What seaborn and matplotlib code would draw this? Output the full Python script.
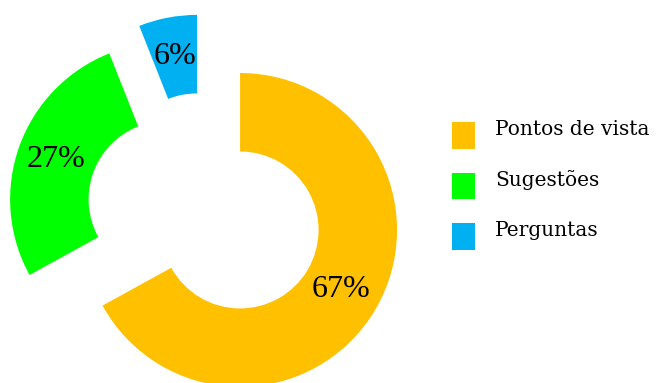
import matplotlib
matplotlib.use("Agg")
import matplotlib.pyplot as plt
import matplotlib.patches as mpatches
import matplotlib.transforms as mtransforms
import seaborn as sns

categories = ["Pontos de vista", "Sugestões", "Perguntas"]
values = [67, 27, 6]
colors = ["#FFC000", "#00FF00", "#00B0F0"]
# offsets of each slice from the centre (in radius units) - layout only
slice_offsets = [(0.0, 0.0), (-0.465, 0.195), (-0.274, 0.37)]

sns.set_theme(style="white")
plt.rcParams["font.family"] = ["Liberation Serif", "DejaVu Serif"]
plt.rcParams["text.color"] = "black"

fig = plt.figure(figsize=(6.58, 3.83), dpi=100)
ax = fig.add_axes([0, 0, 1, 1])

wedges, texts, autotexts = ax.pie(
    values, colors=colors, startangle=90, counterclock=False,
    wedgeprops=dict(width=0.5, linewidth=0),
    autopct="%1.0f%%", pctdistance=0.75,
    textprops=dict(fontsize=23, color="black", family="Liberation Serif"),
)
for w, t, (dx, dy) in zip(wedges, autotexts, slice_offsets):
    w.set_center((dx, dy))
    x, y = t.get_position()
    t.set_position((x + dx, y + dy))
    t.set_ha("center")
    t.set_va("center")

ax.set_aspect("equal")
ax.set_xlim(-1.529, 2.662)
ax.set_ylim(-0.975, 1.465)
ax.axis("off")

handles = [mpatches.Patch(facecolor=c, edgecolor="none") for c in colors]
leg = ax.legend(handles, categories, loc="upper left",
                bbox_to_anchor=(452 / 658, 1 - 122 / 383),
                bbox_transform=fig.transFigure,
                frameon=False, borderpad=0, borderaxespad=0,
                handlelength=1.15, handleheight=1.65, handletextpad=1.0,
                labelspacing=1.2,
                prop=dict(family="DejaVu Serif", size=14.5))
for t in leg.get_texts():
    t.set_color("black")
    t.set_transform(t.get_transform() + mtransforms.Affine2D().translate(0, 7))

fig.savefig("out.png", dpi=100)
